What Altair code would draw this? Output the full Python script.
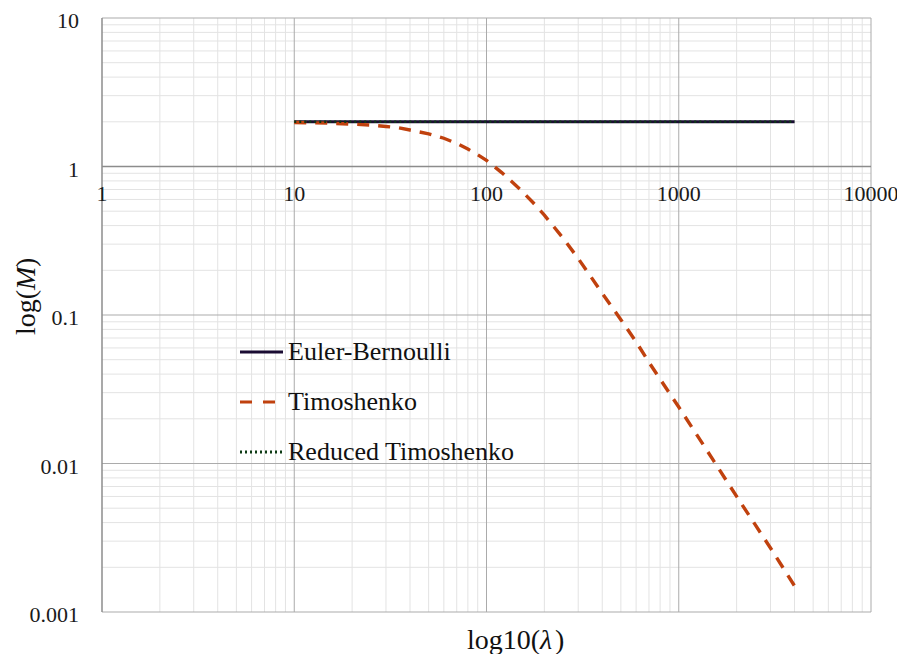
import altair as alt
import pandas as pd

# ---------------- data ----------------
series_names = ["Euler-Bernoulli", "Timoshenko", "Reduced Timoshenko"]
series_colors = ["#1a0c33", "#c0410e", "#0d3b14"]
series_dashes = [[1, 0], [12, 9], [2, 3]]
legend_dashes = [[1, 0], [12, 11], [2, 3]]
series_widths = [3, 3.4, 2.5]

lam_euler = [10, 4000]
m_euler = [2.0, 2.0]

lam_timo = [10, 15, 20, 25, 30, 35, 40, 50, 60, 70, 80, 90, 100, 120, 150,
            175, 200, 250, 300, 350, 400, 500, 600, 700, 800, 1000, 1500,
            2000, 3000, 4000]
m_timo = [1.98, 1.96, 1.93, 1.90, 1.86, 1.82, 1.76, 1.66, 1.55, 1.43, 1.31,
          1.20, 1.10, 0.91, 0.70, 0.57, 0.47, 0.33, 0.24, 0.18, 0.14, 0.093,
          0.066, 0.048, 0.037, 0.024, 0.0107, 0.0060, 0.0027, 0.0015]

lam_reduced = [10, 4000]
m_reduced = [2.0, 2.0]

x_major = [1, 10, 100, 1000, 10000]
x_labels = ["1", "10", "100", "1000", "10000"]
y_major = [0.001, 0.01, 0.1, 1, 10]
y_labels = ["0.001", "0.01", "0.1", "1", "10"]
minor_mult = [2, 3, 4, 5, 6, 7, 8, 9]

x_minor = [m * 10 ** d for d in range(0, 4) for m in minor_mult]
y_minor = [m * 10.0 ** d for d in range(-3, 1) for m in minor_mult]

W, H = 769, 594
FONT = "Liberation Serif"

xs = alt.Scale(type="log", domain=[1, 10000], nice=False)
ys = alt.Scale(type="log", domain=[0.001, 10], nice=False)

def vrule(vals, color, width):
    return alt.Chart(pd.DataFrame({"x": vals})).mark_rule(
        color=color, strokeWidth=width).encode(
        x=alt.X("x:Q", scale=xs, axis=None))

def hrule(vals, color, width):
    return alt.Chart(pd.DataFrame({"y": vals})).mark_rule(
        color=color, strokeWidth=width).encode(
        y=alt.Y("y:Q", scale=ys, axis=None))

vminor = vrule(x_minor, "#e3e3e3", 1)
hminor = hrule(y_minor, "#e3e3e3", 1)
vmajor = vrule(x_major[1:], "#ababab", 1)
hmajor = hrule([v for v in y_major if v != 1], "#ababab", 1)
xaxis_line = hrule([1], "#8c8c8c", 1.5)
yaxis_line = vrule([1], "#8c8c8c", 1.5)

series_data = [(lam_euler, m_euler), (lam_timo, m_timo), (lam_reduced, m_reduced)]
line_layers = []
legend_layers = []
for i, (name, (lx, ly)) in enumerate(zip(series_names, series_data)):
    d = pd.DataFrame({"lam": lx, "m": ly})
    line_layers.append(alt.Chart(d).mark_line(
        color=series_colors[i], strokeWidth=series_widths[i],
        strokeDash=series_dashes[i]).encode(
        x=alt.X("lam:Q", scale=xs, axis=None),
        y=alt.Y("m:Q", scale=ys, axis=None)))
    ld = pd.DataFrame({"t": [name]})
    legend_layers.append(alt.Chart(ld).mark_rule(
        color=series_colors[i], strokeWidth=3,
        strokeDash=legend_dashes[i]).encode(
        x=alt.value(138), x2=alt.value(181), y=alt.value(334 + 50 * i)))
    legend_layers.append(alt.Chart(ld).mark_text(
        font=FONT, fontSize=26, color="#111111", align="left",
        baseline="middle").encode(
        x=alt.value(186), y=alt.value(334 + 50 * i), text="t:N"))

xlab = alt.Chart(pd.DataFrame({"x": x_major, "t": x_labels,
                               "one": [1] * len(x_major)})).mark_text(
    font=FONT, fontSize=22, color="#1a1a1a", align="center",
    baseline="middle", dy=27).encode(
    x=alt.X("x:Q", scale=xs, axis=None),
    y=alt.Y("one:Q", scale=ys, axis=None),
    text="t:N")
ylab = alt.Chart(pd.DataFrame({"y": y_major, "t": y_labels})).mark_text(
    font=FONT, fontSize=22, color="#1a1a1a", align="right",
    baseline="middle", dy=3).encode(
    x=alt.value(-23),
    y=alt.Y("y:Q", scale=ys, axis=None),
    text="t:N")

# axis titles with italic symbols
def txt(s, x, y, italic=False, angle=0):
    return alt.Chart(pd.DataFrame({"t": [s]})).mark_text(
        font=FONT, fontSize=28, color="#111111", align="left",
        baseline="middle", angle=angle,
        fontStyle="italic" if italic else "normal").encode(
        x=alt.value(x), y=alt.value(y), text="t:N")

xt1 = txt("log10(", 365, 623)
xt2 = txt("λ", 438, 623, italic=True)
xt3 = txt(")", 453, 623)
yt1 = txt("log(", -75, 317, angle=270)
yt2 = txt("M", -75, 272, italic=True, angle=270)
yt3 = txt(")", -75, 249, angle=270)

chart = alt.layer(
    vminor, hminor, vmajor, hmajor, xaxis_line, yaxis_line,
    *line_layers, *legend_layers, xlab, ylab, xt1, xt2, xt3, yt1, yt2, yt3
).properties(
    width=W, height=H,
    autosize=alt.AutoSizeParams(type="none"),
    padding={"left": 94, "top": 10, "right": 26, "bottom": 42},
    background="white",
).configure_view(stroke=None)

chart.save("out.html", embed_options={"renderer": "svg", "actions": False})
